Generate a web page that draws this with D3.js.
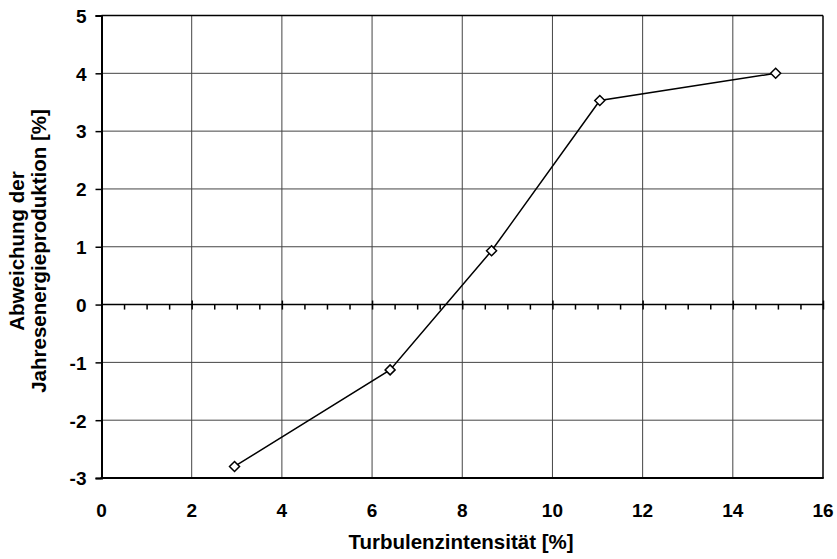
<!DOCTYPE html>
<html>
  <meta charset="utf-8">
  <head>
    <script src="https://d3js.org/d3.v7.min.js"></script>
    <style>
      body { margin: 0; background: #fff; }
      text { font-family: "Liberation Sans", Arial, sans-serif; font-weight: bold; fill: #000; }
    </style>
  </head>
  <body>
    <div id="viz"></div>

    <script type="text/javascript">
      // values
      var turbulence = [2.95, 6.4, 8.65, 11.05, 14.95];
      var deviation = [-2.8, -1.13, 0.93, 3.53, 4.0];
      var xTicks = [0, 2, 4, 6, 8, 10, 12, 14, 16];
      var yTicks = [-3, -2, -1, 0, 1, 2, 3, 4, 5];
      var xTitle = "Turbulenzintensität [%]";
      var yTitle = ["Abweichung der", "Jahresenergieproduktion [%]"];

      var W = 837, H = 559;
      var pLeft = 101.5, pRight = 823, pTop = 15.5, pBottom = 478;

      var svg = d3.select("#viz").append("svg")
        .attr("width", W)
        .attr("height", H);

      var x = d3.scaleLinear().domain([0, 16]).range([pLeft, pRight]);
      var y = d3.scaleLinear().domain([-3, 5]).range([pBottom, pTop]);

      // grid
      svg.append("g").selectAll("line")
        .data(xTicks.filter((d) => d > 0 && d < 16))
        .enter().append("line")
          .attr("x1", (d) => x(d)).attr("x2", (d) => x(d))
          .attr("y1", pTop).attr("y2", pBottom)
          .attr("stroke", "#444").attr("stroke-width", 1);
      svg.append("g").selectAll("line")
        .data(yTicks.filter((d) => d > -3 && d < 5 && d != 0))
        .enter().append("line")
          .attr("x1", pLeft).attr("x2", pRight)
          .attr("y1", (d) => y(d)).attr("y2", (d) => y(d))
          .attr("stroke", "#444").attr("stroke-width", 1);

      // frame
      svg.append("line").attr("x1", pLeft).attr("x2", pRight).attr("y1", pTop).attr("y2", pTop)
        .attr("stroke", "#000").attr("stroke-width", 1.5);
      svg.append("line").attr("x1", pRight).attr("x2", pRight).attr("y1", pTop).attr("y2", pBottom)
        .attr("stroke", "#000").attr("stroke-width", 1.5);
      svg.append("line").attr("x1", pLeft - 1).attr("x2", pRight + 0.75).attr("y1", pBottom).attr("y2", pBottom)
        .attr("stroke", "#000").attr("stroke-width", 2);

      // y axis
      var yAxis = svg.append("g")
        .attr("transform", "translate(" + pLeft + ",0)")
        .call(d3.axisLeft(y).tickValues(yTicks).tickSize(6).tickPadding(9).tickFormat((d) => String(d)));
      yAxis.select(".domain").attr("stroke-width", 2);
      yAxis.selectAll(".tick line").attr("stroke-width", 1.5);
      yAxis.selectAll("text").style("font-size", "19px").attr("dy", "0.36em");

      // zero line with ticks
      var zeroAxis = svg.append("g")
        .attr("transform", "translate(0," + y(0) + ")")
        .call(d3.axisBottom(x).ticks(32).tickSize(5).tickFormat(""));
      zeroAxis.select(".domain").remove();
      zeroAxis.selectAll(".tick line").attr("stroke-width", 1.5)
        .attr("y1", (d) => (d % 2 === 0 ? -4 : 0));
      svg.append("line").attr("x1", pLeft).attr("x2", pRight).attr("y1", y(0)).attr("y2", y(0))
        .attr("stroke", "#000").attr("stroke-width", 1.5);

      // x tick labels
      svg.append("g").selectAll("text")
        .data(xTicks)
        .enter().append("text")
          .attr("x", (d) => x(d))
          .attr("y", pBottom + 38.5)
          .attr("text-anchor", "middle")
          .style("font-size", "19px")
          .text((d) => d);

      // series
      var pts = turbulence.map((t, i) => [t, deviation[i]]);
      svg.append("path")
        .datum(pts)
        .attr("fill", "none")
        .attr("stroke", "#000")
        .attr("stroke-width", 1.5)
        .attr("d", d3.line().x((d) => x(d[0])).y((d) => y(d[1])));
      svg.append("g").selectAll("path")
        .data(pts)
        .enter().append("path")
          .attr("transform", (d) => "translate(" + x(d[0]) + "," + y(d[1]) + ")")
          .attr("d", "M0,-5L5,0L0,5L-5,0Z")
          .attr("fill", "#fff")
          .attr("stroke", "#000")
          .attr("stroke-width", 1.5);

      // titles
      svg.append("text")
        .attr("x", 461)
        .attr("y", 549)
        .attr("text-anchor", "middle")
        .style("font-size", "20.5px")
        .text(xTitle);
      svg.append("g")
        .attr("transform", "translate(0,251) rotate(-90)")
        .selectAll("text")
        .data(yTitle)
        .enter().append("text")
          .attr("x", 0)
          .attr("y", (d, i) => 24 + i * 22)
          .attr("text-anchor", "middle")
          .style("font-size", "20.5px")
          .text((d) => d);
    </script>
  </body>
</html>
